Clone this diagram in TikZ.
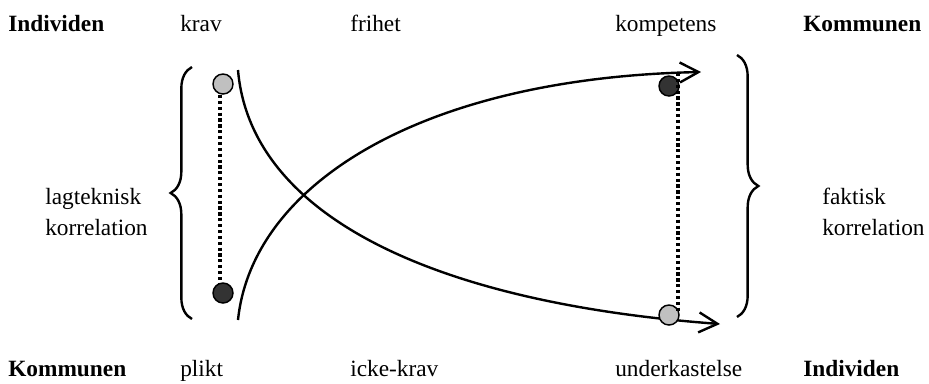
\documentclass[tikz,border=0pt]{standalone}
\usepackage{fontspec}
\setmainfont{Liberation Serif}
\usepackage{tikz}
\usetikzlibrary{arrows.meta, positioning, decorations.pathreplacing}
\definecolor{cLight}{RGB}{192,192,192}
\definecolor{cDark}{RGB}{51,51,51}
\tikzset{
	lbl/.style      ={anchor=base west, inner sep=0pt, font=\fontsize{17.5}{23}\selectfont},
	hdr/.style      ={lbl, font=\fontsize{17.5}{23}\selectfont\bfseries},
	dotlight/.style ={circle, draw=black, line width=1.1pt, fill=cLight, minimum size=15pt, inner sep=0pt},
	dotdark/.style  ={circle, draw=black, line width=1.1pt, fill=cDark, minimum size=15pt, inner sep=0pt},
	corr/.style     ={line width=2.4pt, dash pattern=on 2.4pt off 2pt},
	flow/.style     ={-{Straight Barb[length=14pt,width=15pt,line width=1.8pt]}, line width=1.8pt},
	bracket/.style  ={line width=1.8pt, decorate, decoration={brace, amplitude=16pt}},
}
\begin{document}
\begin{tikzpicture}[x=0.75pt, y=-0.75pt]
	\useasboundingbox (0,0) rectangle (929,383);
	% top row
	\node[hdr] (indTop)  at (8,31)   {Individen};
	\node[lbl] (krav)    at (180,31) {krav};
	\node[lbl] (frihet)  at (350,31) {frihet};
	\node[lbl] (komp)    at (615,31) {kompetens};
	\node[hdr] (komTop)  at (803,31) {Kommunen};
	% bottom row
	\node[hdr] (komBot)  at (8,376)   {Kommunen};
	\node[lbl] (plikt)   at (180,376) {plikt};
	\node[lbl] (ickekrav) at (350,376) {icke-krav};
	\node[lbl] (underk)  at (615,376) {underkastelse};
	\node[hdr] (indBot)  at (803,376) {Individen};
	% side labels (base = last line)
	\node[lbl, align=left] (lagtek) at (45,235) {lagteknisk\\korrelation};
	\node[lbl, align=left] (faktisk) at (822,235) {faktisk\\korrelation};
	% braces
	\draw[bracket] (192,319) -- (192,67);
	\draw[bracket] (737,55) -- (737,317);
	% the two crossing curves
	\coordinate (kravStart)  at (238,70);
	\coordinate (underEnd)   at (720,324);
	\coordinate (pliktStart) at (238,320);
	\coordinate (kompEnd)    at (701,72);
	\draw[flow] (kravStart) .. controls (250,212) and (425,302) .. (underEnd);
	\draw[flow] (pliktStart) .. controls (252,185) and (420,78) .. (kompEnd);
	% correlations
	\node[dotlight] (kravDot)  at (223,84)  {};
	\node[dotdark]  (pliktDot) at (223,293) {};
	\node[dotdark]  (kompDot)  at (669,86)  {};
	\node[dotlight] (underDot) at (669,315) {};
	\coordinate (a1) at (220,95);
	\coordinate (a2) at (220,283);
	\draw[corr] (a1) -- (a2);
	\coordinate (b1) at (678,73);
	\coordinate (b2) at (678,313);
	\draw[corr] (b1) -- (b2);
\end{tikzpicture}
\end{document}
